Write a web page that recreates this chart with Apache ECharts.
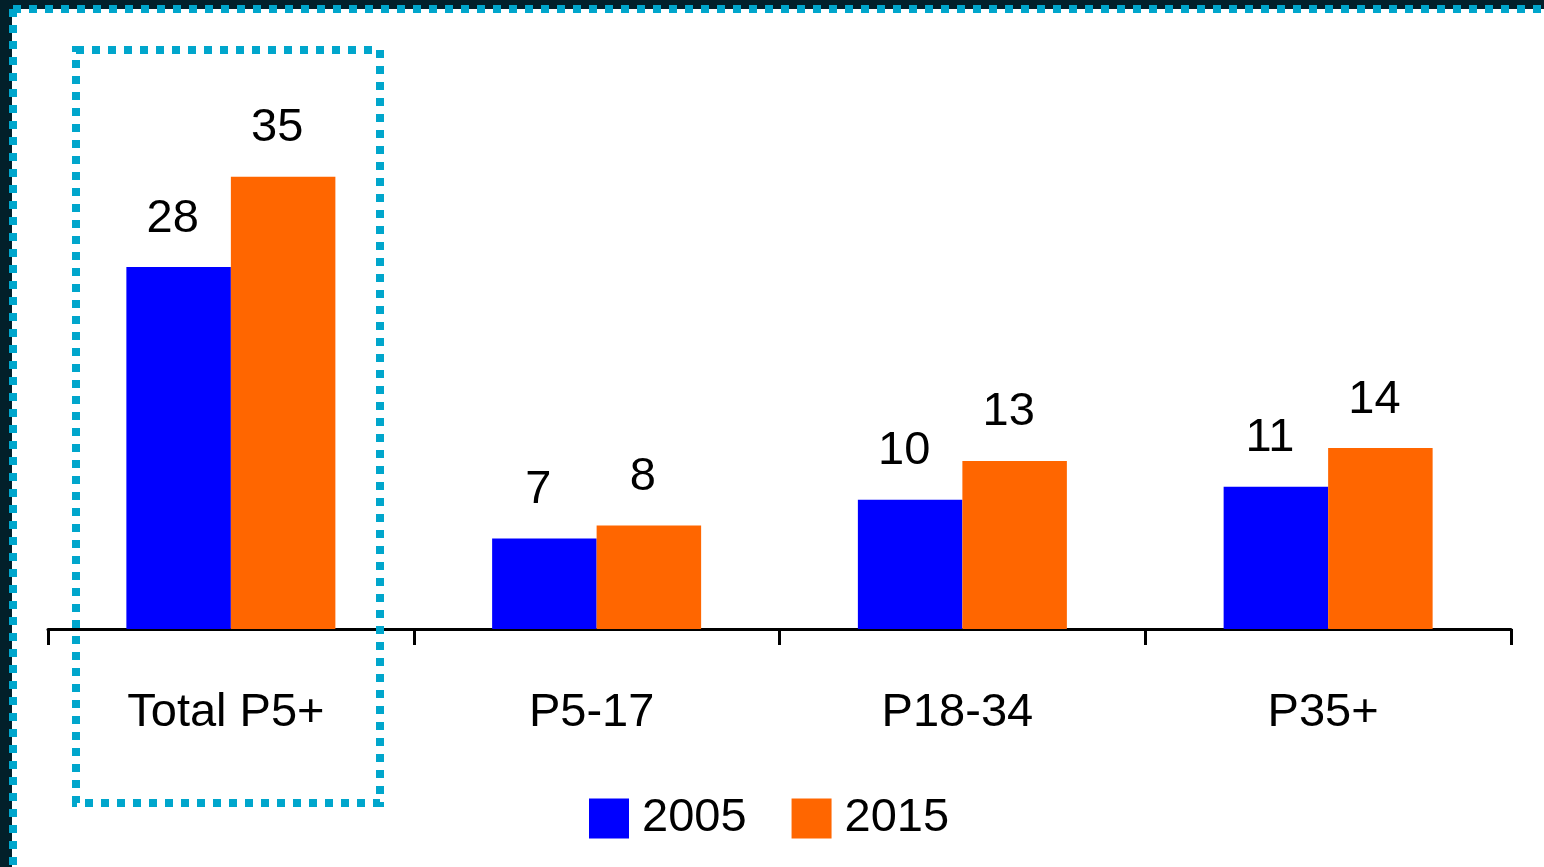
<!DOCTYPE html>
<html>
<head>
<meta charset="utf-8">
<script src="https://cdn.jsdelivr.net/npm/echarts@6/dist/echarts.min.js"></script>
<style>
  html, body { margin: 0; padding: 0; background: #fff; }
  #chart { width: 1544px; height: 867px; }
</style>
</head>
<body>
<div id="chart"></div>
<script>
const categories = ['Total P5+', 'P5-17', 'P18-34', 'P35+'];
const seriesNames = ['2005', '2015'];
const values2005 = [28, 7, 10, 11];
const values2015 = [35, 8, 13, 14];

const chart = echarts.init(document.getElementById('chart'));
const FONT = '"Liberation Sans", Arial, sans-serif';
const dotColor = '#00a6cc';

const labelStyle = {
  show: true,
  position: 'top',
  distance: 25,
  offset: [-6, 0],
  color: '#000',
  fontSize: 47,
  fontFamily: FONT
};

const option = {
  backgroundColor: '#fff',
  animation: false,
  grid: { left: 48, right: 33, top: 112, bottom: 238 },
  legend: {
    data: seriesNames,
    top: 790,
    left: 584,
    itemWidth: 40,
    itemHeight: 40,
    itemGap: 45,
    icon: 'rect',
    textStyle: { color: '#000', fontSize: 47, fontFamily: FONT, padding: [0, 0, 0, 8] }
  },
  xAxis: {
    type: 'category',
    data: categories,
    axisLine: { lineStyle: { color: '#000', width: 3 } },
    axisTick: { show: true, length: 16, lineStyle: { color: '#000', width: 3 } },
    axisLabel: { color: '#000', fontSize: 47, fontFamily: FONT, margin: 61, padding: [0, 10, 0, 0] }
  },
  yAxis: {
    type: 'value',
    min: 0,
    max: 40,
    show: false,
    splitLine: { show: false }
  },
  series: [
    {
      name: '2005',
      type: 'bar',
      data: values2005,
      barWidth: 104.5,
      barGap: '0%',
      itemStyle: { color: '#0000ff' },
      label: labelStyle
    },
    {
      name: '2015',
      type: 'bar',
      data: values2015,
      barWidth: 104.5,
      barGap: '0%',
      itemStyle: { color: '#ff6600' },
      label: labelStyle
    }
  ],
  graphic: [
    // dark frame on top and left
    { type: 'rect', shape: { x: 0, y: 0, width: 1544, height: 9 }, style: { fill: '#02202a' }, z: 100 },
    { type: 'rect', shape: { x: 0, y: 0, width: 12, height: 867 }, style: { fill: '#02202a' }, z: 100 },
    // dotted frame line
    { type: 'line', shape: { x1: 13, y1: 9, x2: 1544, y2: 9 },
      style: { stroke: dotColor, lineWidth: 8, lineDash: [8, 8] }, z: 101 },
    { type: 'line', shape: { x1: 13, y1: 9, x2: 13, y2: 867 },
      style: { stroke: dotColor, lineWidth: 8, lineDash: [8, 8] }, z: 101 },
    // dotted highlight box around Total P5+
    { type: 'rect', shape: { x: 76, y: 50, width: 304, height: 753 },
      style: { fill: 'none', stroke: dotColor, lineWidth: 8, lineDash: [8, 8] }, z: 101 }
  ]
};

chart.setOption(option);
window.addEventListener('resize', () => chart.resize());
</script>
</body>
</html>
